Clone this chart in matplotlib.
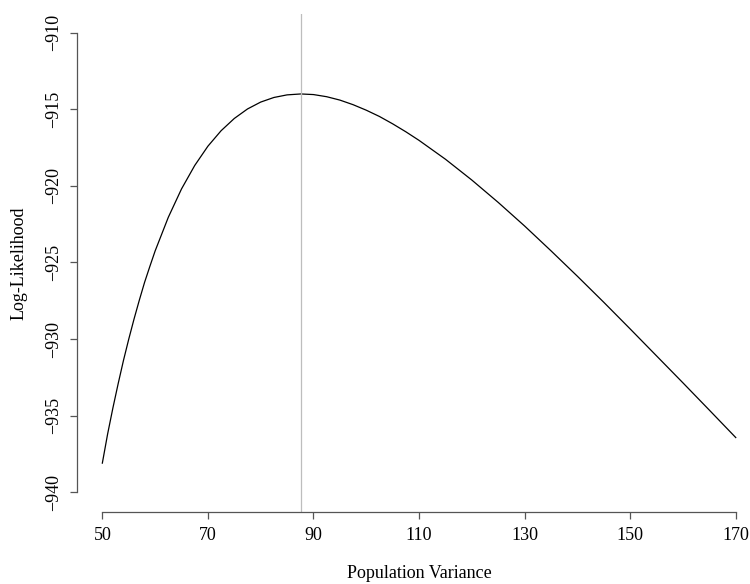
import matplotlib
matplotlib.use("Agg")
import matplotlib.pyplot as plt

# Log-likelihood profile
variance = [50, 51, 52, 53, 54, 55, 56, 57, 58, 59, 60, 62.5, 65, 67.5, 70,
            72.5, 75, 77.5, 80, 82.5, 85, 87.6, 90, 92.5, 95, 97.5, 100,
            102.5, 105, 107.5, 110, 115, 120, 125, 130, 135, 140, 145, 150,
            155, 160, 165, 170]
loglik = [-938.1, -936.2, -934.5, -932.91, -931.4, -930.01, -928.7, -927.47,
          -926.3, -925.26, -924.25, -922.05, -920.2, -918.67, -917.41,
          -916.4, -915.6, -914.98, -914.53, -914.23, -914.06, -914.0,
          -914.04, -914.18, -914.4, -914.7, -915.06, -915.47, -915.95,
          -916.47, -917.03, -918.26, -919.62, -921.08, -922.62, -924.24,
          -925.9, -927.6, -929.34, -931.1, -932.86, -934.64, -936.43]
mle_variance = 87.65

xticks = [50, 70, 90, 110, 130, 150, 170]
yticks = [-940, -935, -930, -925, -920, -915, -910]

plt.rcParams['font.family'] = ['Liberation Serif', 'DejaVu Serif']
W, H = 750, 584
fig = plt.figure(figsize=(W / 100, H / 100), dpi=100)
ax = fig.add_axes([77 / W, 72 / H, (W - 77) / W, (512 - 14.3) / H])

ax.plot(variance, loglik, color='black', lw=0.9)
ax.axvline(mle_variance, color='#bdbdbd', lw=0.9)

ax.set_xlim(45.2, 172.7)
ax.set_ylim(-941.29, -908.8)

for side in ['top', 'right']:
    ax.spines[side].set_visible(False)
ax.spines['bottom'].set_bounds(50, 170)
ax.spines['left'].set_bounds(-940, -910)
for side in ['bottom', 'left']:
    ax.spines[side].set_color('#555555')
    ax.spines[side].set_linewidth(0.9)

ax.set_xticks(xticks)
ax.set_xticklabels([str(t) for t in xticks])
ax.set_yticks(yticks)
ax.set_yticklabels([str(t).replace('-', '\u2212') for t in yticks],
                   rotation=90, va='center')
ax.tick_params(direction='out', length=5, width=0.9, color='#555555',
               labelsize=13, pad=6)

fig.text(419 / W, 6 / H, 'Population Variance', ha='center', va='baseline',
         fontsize=13)
fig.text(19 / W, 1 - 263 / H, 'Log-Likelihood', ha='center', va='center',
         rotation=90, fontsize=13)

fig.savefig('out.png', dpi=100)
